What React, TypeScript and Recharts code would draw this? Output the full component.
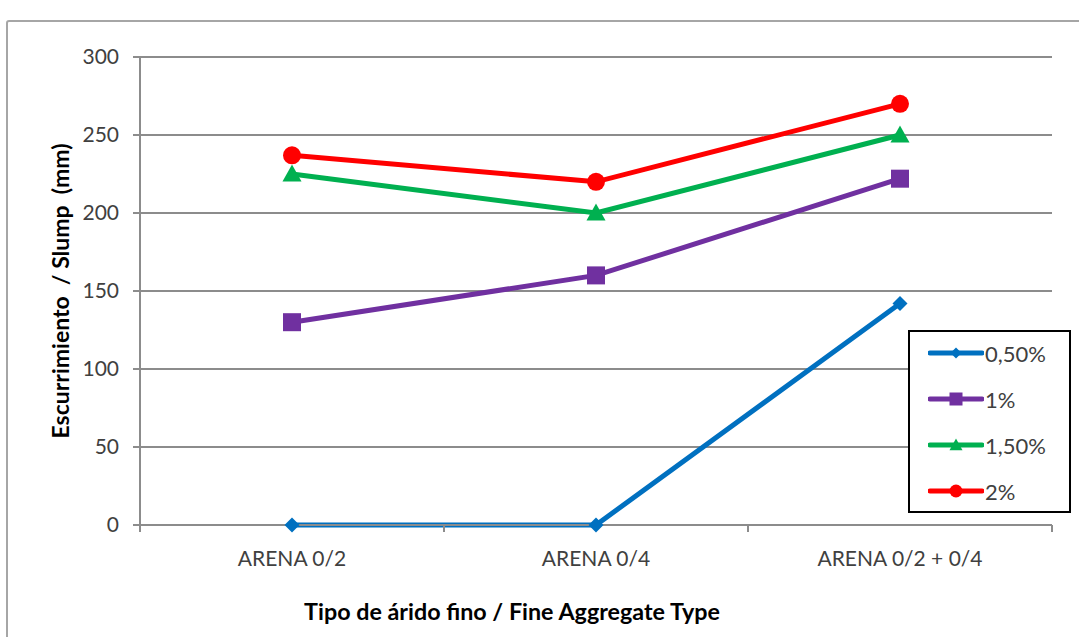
import { CartesianGrid, Label, Line, LineChart, XAxis, YAxis } from "recharts";

const CATEGORIES = ["ARENA 0/2", "ARENA 0/4", "ARENA 0/2 + 0/4"];
const SERIES_LABELS = ["0,50%", "1%", "1,50%", "2%"];
const SLUMP_050 = [0, 0, 142];
const SLUMP_100 = [130, 160, 222];
const SLUMP_150 = [225, 200, 250];
const SLUMP_200 = [237, 220, 270];
const Y_TICKS = [0, 50, 100, 150, 200, 250, 300];
// category centres sit on the halves, edges on the integers
const X_TICKS = [0, 0.5, 1, 1.5, 2, 2.5, 3];

const AXIS_GRAY = "#8c8c8c";
const TEXT_GRAY = "#404040";
const FONT = "Lato, 'Open Sans', sans-serif";

type Shape = "diamond" | "square" | "triangle" | "circle";

const SERIES: { key: string; label: string; color: string; shape: Shape }[] = [
  { key: "s050", label: SERIES_LABELS[0], color: "#0070C0", shape: "diamond" },
  { key: "s100", label: SERIES_LABELS[1], color: "#7030A0", shape: "square" },
  { key: "s150", label: SERIES_LABELS[2], color: "#00B050", shape: "triangle" },
  { key: "s200", label: SERIES_LABELS[3], color: "#FF0000", shape: "circle" },
];

const data = CATEGORIES.map((name, i) => ({
  name,
  pos: i + 0.5,
  s050: SLUMP_050[i],
  s100: SLUMP_100[i],
  s150: SLUMP_150[i],
  s200: SLUMP_200[i],
}));

function Marker({ cx, cy, shape, color, s }: { cx: number; cy: number; shape: Shape; color: string; s: number }) {
  if (shape === "diamond") {
    return <polygon points={`${cx},${cy - s} ${cx + s},${cy} ${cx},${cy + s} ${cx - s},${cy}`} fill={color} />;
  }
  if (shape === "square") {
    return <rect x={cx - s} y={cy - s} width={s * 2} height={s * 2} fill={color} />;
  }
  if (shape === "triangle") {
    return <polygon points={`${cx},${cy - s} ${cx + s},${cy + s * 0.8} ${cx - s},${cy + s * 0.8}`} fill={color} />;
  }
  return <circle cx={cx} cy={cy} r={s} fill={color} />;
}

const DOT_SIZE: Record<Shape, number> = { diamond: 7.5, square: 9, triangle: 9.5, circle: 9 };
const LEGEND_DOT: Record<Shape, number> = { diamond: 5.5, square: 6.5, triangle: 6.5, circle: 6.5 };

function XTick(props: any) {
  const { x, y, payload } = props;
  const v = payload.value as number;
  if (Number.isInteger(v)) {
    return <line x1={x} x2={x} y1={y} y2={y + 7} stroke={AXIS_GRAY} strokeWidth={2} />;
  }
  return (
    <text x={x} y={y + 41} textAnchor="middle" fill={TEXT_GRAY} fontSize={21} fontFamily={FONT}>
      {CATEGORIES[Math.floor(v)]}
    </text>
  );
}

function YTitle(props: any) {
  const vb = props.viewBox;
  const cx = vb.x + 60;
  const cy = vb.y + vb.height / 2;
  return (
    <text
      x={cx}
      y={cy}
      transform={`rotate(-90 ${cx} ${cy})`}
      textAnchor="middle"
      dominantBaseline="central"
      fontSize={23}
      fontWeight="bold"
      fontFamily={FONT}
      fill="#000"
    >
      {"Escurrimiento\u00A0\u00A0/ Slump\u00A0\u00A0(mm)"}
    </text>
  );
}

function XTitle(props: any) {
  const vb = props.viewBox;
  return (
    <text
      x={512}
      y={vb.y + 95}
      textAnchor="middle"
      fontSize={23.3}
      fontWeight="bold"
      fontFamily={FONT}
      fill="#000"
    >
      Tipo de árido fino / Fine Aggregate Type
    </text>
  );
}

function LegendBox() {
  return (
    <div
      style={{
        position: "absolute",
        left: 908,
        top: 330,
        width: 159,
        height: 179,
        border: "2px solid #000",
        background: "#fff",
        fontFamily: FONT,
        fontSize: 22,
        color: TEXT_GRAY,
      }}
    >
      {SERIES.map((s, i) => (
        <div key={s.key} style={{ position: "absolute", left: 18, top: 7 + i * 46, height: 28, display: "flex", alignItems: "center" }}>
          <svg width={56} height={20}>
            <line x1={2} x2={54} y1={10} y2={10} stroke={s.color} strokeWidth={5} strokeLinecap="round" />
            <Marker cx={28} cy={10} shape={s.shape} color={s.color} s={LEGEND_DOT[s.shape]} />
          </svg>
          <span style={{ marginLeft: 1 }}>{s.label}</span>
        </div>
      ))}
    </div>
  );
}

export default function App() {
  return (
    <div style={{ position: "fixed", left: 0, top: 0, width: 1079, height: 637, overflow: "hidden", background: "#fff" }}>
      <div
        style={{
          position: "absolute",
          left: 6,
          top: 20,
          width: 1200,
          height: 800,
          border: "2px solid #a6a6a6",
          borderRadius: 3,
        }}
      />
      <div style={{ position: "absolute", left: 0, top: 0 }}>
        <LineChart
          width={1079}
          height={637}
          data={data}
          margin={{ top: 57, right: 27, bottom: 0, left: 0 }}
          style={{ fontFamily: FONT }}
        >
          <CartesianGrid horizontal vertical={false} stroke={AXIS_GRAY} strokeWidth={2} />
          <XAxis
            dataKey="pos"
            type="number"
            domain={[0, 3]}
            ticks={X_TICKS}
            interval={0}
            height={112}
            tickLine={false}
            tickSize={0}
            tickMargin={0}
            axisLine={{ stroke: AXIS_GRAY, strokeWidth: 2 }}
            tick={<XTick />}
          >
            <Label content={<XTitle />} />
          </XAxis>
          <YAxis
            domain={[0, 300]}
            ticks={Y_TICKS}
            width={140}
            tickSize={7}
            tickMargin={14}
            tickLine={{ stroke: AXIS_GRAY, strokeWidth: 2 }}
            axisLine={{ stroke: AXIS_GRAY, strokeWidth: 2 }}
            tick={{ fill: TEXT_GRAY, fontSize: 21, fontFamily: FONT }}
          >
            <Label content={<YTitle />} />
          </YAxis>
          {SERIES.map((s) => (
            <Line
              key={s.key}
              dataKey={s.key}
              type="linear"
              stroke={s.color}
              strokeWidth={5}
              isAnimationActive={false}
              dot={(p: any) => (
                <Marker key={`${s.key}-${p.index}`} cx={p.cx} cy={p.cy} shape={s.shape} color={s.color} s={DOT_SIZE[s.shape]} />
              )}
              activeDot={false}
            />
          ))}
        </LineChart>
      </div>
      <LegendBox />
    </div>
  );
}
